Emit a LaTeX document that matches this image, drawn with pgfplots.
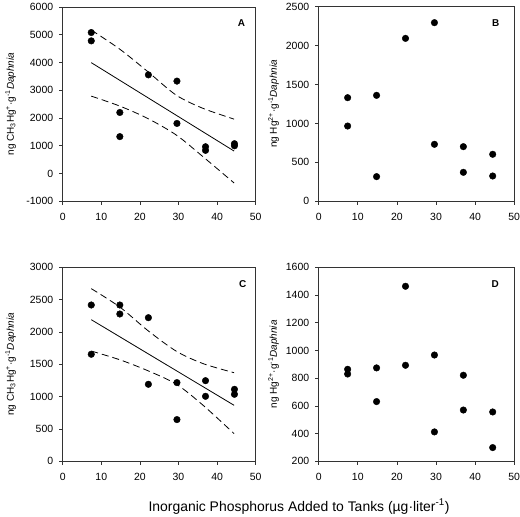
\documentclass[border=0pt]{standalone}
\usepackage{pgfplots}
\pgfplotsset{compat=1.18}
\usepackage{fontspec}
\setmainfont{Liberation Sans}
\tikzset{letter/.style={font=\bfseries\fontsize{10}{11}\selectfont}}
\pgfplotsset{
  panel/.style={
    scale only axis,
    xmin=0, xmax=50,
    xtick={0,10,...,50},
    tick align=outside,
    tick pos=left,
    major tick length=3.5bp,
    axis line style={line width=0.7bp, black!80},
    every tick/.style={line width=0.7bp, black!80},
    ticklabel style={font=\fontsize{10.5}{11}\selectfont},
    xticklabel style={yshift=-5bp},
    yticklabel style={xshift=-2.5bp},
    scaled ticks=false,
    /pgf/number format/1000 sep={},
    /pgf/number format/assume math mode=true,
    clip=false,
    ylabel style={font=\fontsize{10}{11}\selectfont, rotate=0, anchor=center},
  },
  dots/.style={only marks, mark=*, mark size=3.3bp, mark options={fill=black, draw=black}},
  fitline/.style={no marks, black, line width=0.8bp},
  band/.style={no marks, black, line width=0.8bp, dash pattern=on 7bp off 4bp, smooth, tension=0.5},
}
\begin{document}
\begin{tikzpicture}
\path[use as bounding box] (0,0) rectangle (520bp,517bp);
% Panel A
\begin{axis}[panel, at={(62.7bp,315.7bp)}, anchor=south west, width=193bp, height=194.3bp,
  ymin=-1000, ymax=6000, ytick={-1000,0,...,6000},
  ylabel={ng CH\textsubscript{3}Hg\textsuperscript{+}·g\textsuperscript{-1}\textit{Daphnia}},
  ylabel style={at={(axis description cs:-0.27,0.5)}}]
\addplot[dots] coordinates {(7.4,5080) (7.4,4780) (14.8,2200) (14.8,1330) (22.2,3555) (29.6,3330) (29.6,1805) (37.0,965) (37.0,835) (44.5,1075) (44.5,1000)};
\addplot[fitline] coordinates {(7.4,3995) (44.4,810)};
\addplot[band] coordinates {(7.4,5170) (14.8,4480) (22.1,3665) (29.4,2825) (36.4,2345) (44.4,1960)};
\addplot[band] coordinates {(7.4,2790) (14.8,2430) (22.1,1980) (29.5,1380) (36.4,600) (44.4,-340)};
\node[letter] at (rel axis cs:0.926,0.918) {A};
\end{axis}
% Panel B
\begin{axis}[panel, at={(318.7bp,315.7bp)}, anchor=south west, width=195.5bp, height=194.6bp,
  ymin=0, ymax=2500, ytick={0,500,...,2500},
  ylabel={ng Hg\textsuperscript{2+}·g\textsuperscript{-1}\textit{Daphnia}},
  ylabel style={at={(axis description cs:-0.231,0.5)}}]
\addplot[dots] coordinates {(7.4,1331) (7.4,967) (14.8,1361) (14.8,317) (22.2,2093) (29.6,2295) (29.6,732) (37.0,702) (37.0,372) (44.5,604) (44.5,325)};
\node[letter] at (rel axis cs:0.905,0.915) {B};
\end{axis}
% Panel C
\begin{axis}[panel, at={(62.7bp,55.7bp)}, anchor=south west, width=193bp, height=194bp,
  ymin=0, ymax=3000, ytick={0,500,...,3000},
  ylabel={ng CH\textsubscript{3}Hg\textsuperscript{+}·g\textsuperscript{-1}\textit{Daphnia}},
  ylabel style={at={(axis description cs:-0.27,0.5)}}]
\addplot[dots] coordinates {(7.4,2417) (7.4,1655) (14.8,2417) (14.8,2278) (22.2,2221) (22.2,1191) (29.6,1217) (29.6,645) (37.0,1247) (37.0,1005) (44.5,1113) (44.5,1036)};
\addplot[fitline] coordinates {(7.4,2190) (44.4,866)};
\addplot[band] coordinates {(7.4,2670) (14.8,2385) (22.1,2020) (29.5,1700) (36.4,1510) (44.4,1370)};
\addplot[band] coordinates {(7.4,1705) (14.8,1570) (22.1,1400) (29.5,1190) (36.4,865) (44.4,428)};
\node[letter] at (rel axis cs:0.933,0.912) {C};
\end{axis}
% Panel D
\begin{axis}[panel, at={(318.7bp,55.7bp)}, anchor=south west, width=195.5bp, height=194bp,
  ymin=200, ymax=1600, ytick={200,400,...,1600},
  ylabel={ng Hg\textsuperscript{2+}·g\textsuperscript{-1}\textit{Daphnia}},
  ylabel style={at={(axis description cs:-0.231,0.5)}}]
\addplot[dots] coordinates {(7.4,864) (7.4,830) (14.8,874) (14.8,631) (22.2,1463) (22.2,893) (29.6,967) (29.6,412) (37.0,821) (37.0,570) (44.5,556) (44.5,299)};
\node[letter] at (rel axis cs:0.903,0.912) {D};
\end{axis}
\node[font=\fontsize{14}{16}\selectfont, anchor=base] at (299bp,6bp) {Inorganic Phosphorus Added to Tanks (µg·liter\textsuperscript{-1})};
\end{tikzpicture}
\end{document}
